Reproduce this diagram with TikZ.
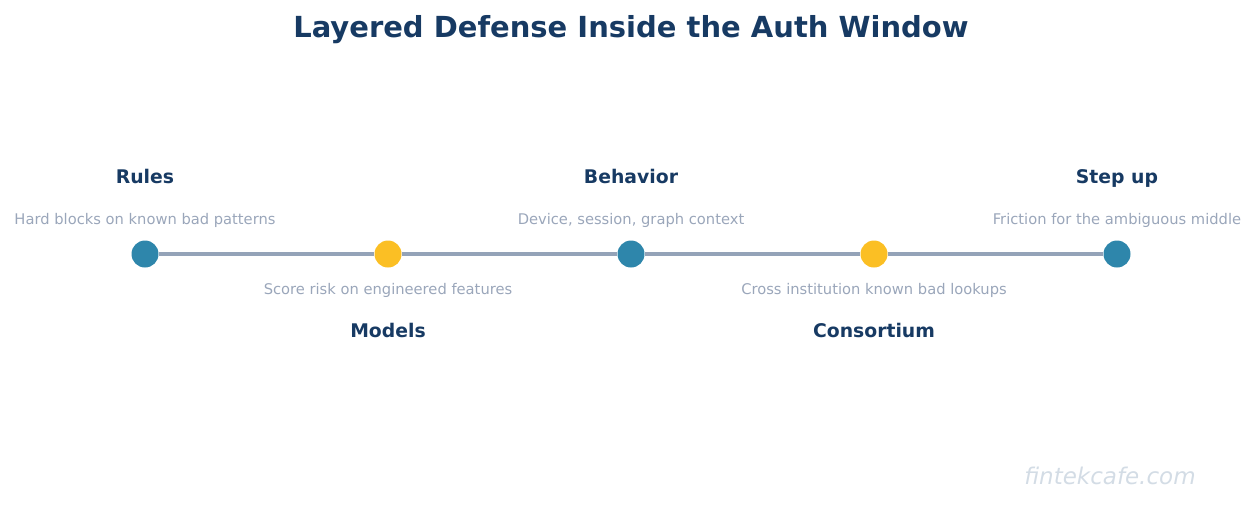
\documentclass[tikz,border=0pt]{standalone}
\usepackage{fontspec}
\setmainfont{DejaVu Sans}
\definecolor{titlec}{HTML}{173A63}
\definecolor{descc}{HTML}{9AA6BA}
\definecolor{linec}{HTML}{94A3B8}
\definecolor{tealc}{HTML}{2E86AB}
\definecolor{yellc}{HTML}{FBBF24}
\definecolor{wmc}{HTML}{D3DCE5}
\tikzset{
  dot/.style={circle, inner sep=0pt, minimum size=27pt},
  lbl/.style={font=\fontsize{18.8}{22}\selectfont\bfseries, text=titlec, inner sep=0pt, anchor=base},
  desc/.style={font=\fontsize{14.7}{17}\selectfont, text=descc, inner sep=0pt, anchor=base},
}
\begin{document}
\begin{tikzpicture}[x=1pt,y=-1pt]
\useasboundingbox (0,0) rectangle (1256,504);
\node[font=\fontsize{29}{34}\selectfont\bfseries, text=titlec, inner sep=0pt, anchor=base] (title) at (631,37) {Layered Defense Inside the Auth Window};
\node[dot, fill=tealc] (d1) at (145,254) {};
\node[dot, fill=yellc] (d2) at (388,254) {};
\node[dot, fill=tealc] (d3) at (631,254) {};
\node[dot, fill=yellc] (d4) at (874,254) {};
\node[dot, fill=tealc] (d5) at (1117,254) {};
\draw[linec, line width=4pt] (d1) -- (d2) (d2) -- (d3) (d3) -- (d4) (d4) -- (d5);
\node[lbl] (l1) at (145,183.5) {Rules};
\node[desc] (s1) at (145,224) {Hard blocks on known bad patterns};
\node[desc] (s2) at (388,294) {Score risk on engineered features};
\node[lbl] (l2) at (388,337.5) {Models};
\node[lbl] (l3) at (631,183.5) {Behavior};
\node[desc] (s3) at (631,224) {Device, session, graph context};
\node[desc] (s4) at (874,294) {Cross institution known bad lookups};
\node[lbl] (l4) at (874,337.5) {Consortium};
\node[lbl] (l5) at (1117,183.5) {Step up};
\node[desc] (s5) at (1117,224) {Friction for the ambiguous middle};
\node[font=\fontsize{23}{27}\selectfont\itshape, text=wmc, inner sep=0pt, anchor=base] (wm) at (1110,484) {fintekcafe.com};
\end{tikzpicture}
\end{document}
